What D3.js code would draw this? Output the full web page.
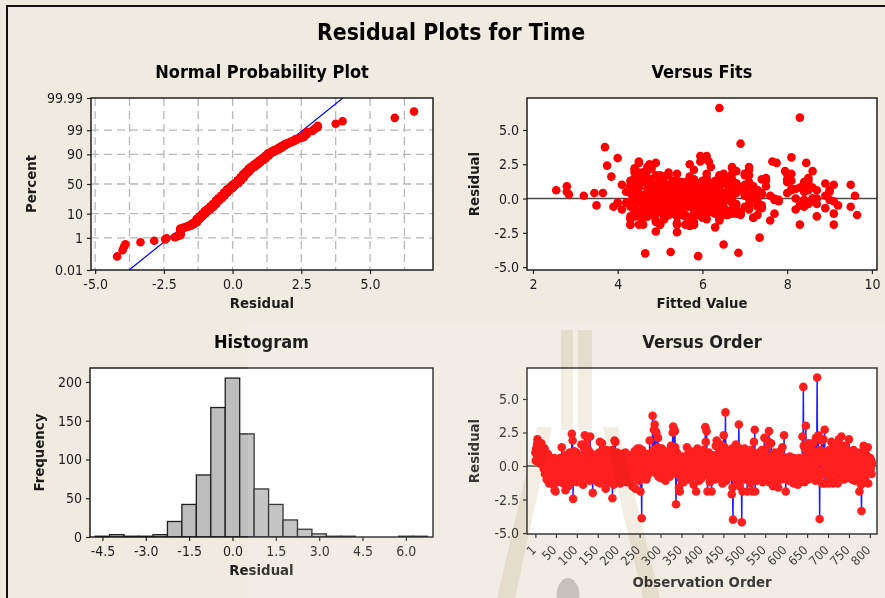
<!DOCTYPE html>
<html>
<head>
<meta charset="utf-8">
<script src="https://cdn.jsdelivr.net/npm/d3@7"></script>
<style>
  html, body { margin: 0; padding: 0; background: #efebe1; }
  svg { display: block; }
  text { font-family: "DejaVu Sans Condensed", "DejaVu Sans", sans-serif; fill: #1c1c1c; }
</style>
</head>
<body>
<svg id="chart" width="885" height="598"></svg>
<script>
// Residuals in observation order
const residuals = [
  1.0,0.4,1.3,0.9,1.6,2.0,1.8,1.2,0.5,1.5,1.1,0.2,1.4,0.8,1.7,0.6,1.2,0.3,1.0,0.9,-0.2,0.7,1.3,-0.6,0.4,
  -0.5,0.6,-1.0,0.2,-0.3,0.9,-0.7,0.1,-1.3,0.4,-0.2,-0.8,0.5,-0.4,0.0,-1.1,0.3,-0.6,-1.4,-0.1,0.6,-1.8,-0.3,-1.9,0.2,
  -0.6,0.3,-1.2,0.0,0.5,-0.4,-0.9,0.4,-0.2,0.6,-0.5,-1.0,0.1,1.4,-0.3,0.2,-0.7,-1.3,0.5,-0.1,-0.6,0.8,-1.8,-0.4,0.3,
  -0.2,0.7,-0.8,0.1,-1.5,0.4,-0.3,1.0,-0.6,0.2,0.6,-1.1,2.4,-0.4,1.9,-2.45,0.5,-0.7,1.1,-0.1,0.3,-0.9,0.0,1.0,-0.5,
  -1.2,0.4,-0.3,0.8,-0.6,0.1,-1.0,0.5,-0.2,-0.7,1.6,0.3,-0.4,0.0,-1.4,0.7,-0.5,1.3,2.3,-0.1,0.2,-0.8,1.7,-0.3,1.1,
  0.6,-0.9,1.2,-0.2,0.3,-1.1,2.2,-0.4,0.1,-0.6,0.9,-0.3,-2.0,0.4,-0.2,0.7,-0.8,-1.0,0.2,-0.5,0.0,-0.9,0.5,-0.4,-1.2,
  0.3,-0.6,1.0,-0.1,1.8,0.6,-1.3,0.2,-0.7,1.7,0.4,-0.2,1.2,-0.5,0.1,-1.0,0.8,-0.3,-1.7,-0.6,1.2,0.0,0.5,-0.8,0.3,
  -0.4,1.1,0.2,-1.2,0.6,-0.2,-0.9,0.4,1.2,-2.4,-0.5,0.1,-1.4,0.7,1.9,-0.3,1.8,-0.6,0.3,-1.1,1.0,0.0,-0.7,0.5,-0.2,
  -0.8,0.4,-0.3,-1.3,0.2,-0.6,0.9,-0.1,-0.5,0.3,-1.0,0.0,0.6,-0.4,-0.2,1.0,-0.7,0.1,-1.2,0.4,-0.3,0.7,-0.6,-0.1,0.2,
  -0.5,0.3,-0.9,0.8,-0.2,-0.6,0.1,-1.5,0.5,-0.3,0.0,-0.8,1.1,-0.4,-1.7,0.2,-0.1,0.6,-0.7,1.3,-0.2,0.4,-1.1,0.9,1.3,
  -0.3,-1.9,0.5,-0.6,-3.9,1.2,-0.9,0.2,-0.4,0.8,0.0,0.3,-0.5,0.6,-0.2,-1.0,0.4,0.1,-0.7,0.9,-0.3,0.5,-0.1,1.9,0.4,
  0.2,-0.4,0.7,0.0,0.9,3.75,0.3,1.2,2.7,0.4,3.1,-0.5,2.6,0.8,2.5,-0.2,0.5,1.4,2.1,-0.8,0.6,1.0,-0.3,1.3,0.2,
  -0.9,0.4,1.3,-0.2,0.1,-0.7,0.6,0.0,1.0,-0.4,0.3,-1.1,0.8,-0.3,0.5,-0.6,0.2,1.1,-0.5,0.0,0.7,-0.8,0.4,-0.1,1.5,
  0.3,-0.4,0.9,2.5,2.95,0.6,-0.2,2.7,2.6,1.4,0.1,-2.85,-0.6,1.0,-0.3,0.4,-0.3,0.2,-1.6,0.6,-1.9,0.0,0.5,-1.0,0.3,
  -0.2,0.7,-0.7,0.1,-1.2,0.4,-0.4,0.0,0.6,-0.9,0.3,-0.1,1.4,-0.6,0.2,0.9,-0.3,-1.0,0.5,0.0,-0.5,1.1,-0.2,0.3,-0.8,
  0.4,-0.3,0.8,-1.4,0.1,-0.6,0.5,-0.1,1.0,-1.9,0.2,-0.4,1.3,-0.7,0.6,0.0,-1.1,0.3,-0.2,0.9,-0.5,0.1,-0.9,0.4,-0.3,
  0.7,-0.2,1.2,-0.7,0.3,-0.1,2.9,1.8,-0.4,2.6,0.5,-1.9,0.2,-0.6,1.0,-0.3,0.4,-1.2,0.0,0.6,-0.8,-1.9,0.3,-0.5,0.8,
  -0.2,0.1,-0.6,0.5,-1.0,0.3,1.5,-0.4,1.9,0.0,0.7,-0.9,0.2,-0.3,1.1,-0.1,0.4,-0.7,1.6,-0.5,0.6,0.0,-1.3,0.9,-0.2,
  2.3,-0.6,1.4,-0.1,4.0,0.5,-1.1,0.2,-0.4,0.8,-0.8,0.0,-0.3,0.6,-0.7,-0.3,1.2,-0.2,0.4,-2.1,1.3,-1.6,-4.0,0.1,0.7,
  -0.4,1.3,0.2,-0.9,1.6,0.5,-1.2,0.9,-0.3,0.0,1.2,3.1,0.4,-1.5,1.3,0.8,-0.1,-0.7,-4.2,0.2,-1.9,0.6,-0.4,0.1,-1.0,
  1.3,-0.2,0.4,-0.6,0.0,0.7,-1.9,0.3,-0.5,1.1,-0.1,0.5,-0.8,0.2,-1.3,1.2,-0.3,0.6,-1.9,0.0,0.4,-0.7,1.8,-0.2,2.7,
  -1.9,0.3,-0.4,0.9,-1.1,0.1,-0.6,0.5,-0.2,1.0,-0.8,0.2,0.6,-0.3,0.8,-0.5,1.2,0.0,-1.2,0.4,-0.7,0.8,2.1,-0.1,0.3,
  -0.6,1.3,0.1,-0.3,0.5,-1.0,0.2,1.8,2.6,-1.2,0.7,0.0,-0.5,1.7,-0.2,0.4,-0.8,0.3,-1.5,0.6,-0.1,1.0,-0.4,0.2,-0.7,
  0.5,-1.2,0.0,0.8,-0.3,-1.6,0.4,-0.6,0.2,1.1,-0.4,0.0,0.6,-1.0,0.3,1.4,-0.2,0.7,-0.5,2.3,0.1,-0.9,0.4,-1.9,0.0,
  -0.4,0.3,-0.7,0.1,0.5,-1.1,0.0,-0.3,0.7,-0.6,0.2,-0.2,0.4,-0.9,0.1,-0.5,0.3,-1.3,0.6,-0.1,0.0,-0.8,0.2,-0.4,0.5,
  -0.2,0.3,-1.4,0.1,-0.6,0.6,-0.3,0.0,-1.0,0.4,-0.5,0.2,-0.1,2.2,-0.7,5.9,1.5,0.4,-1.2,1.3,0.0,3.0,0.8,-0.4,1.6,
  -0.3,0.9,-1.0,1.7,0.2,-0.5,1.1,0.3,-0.8,1.5,0.0,-0.2,0.7,1.7,-0.6,0.4,1.0,-0.3,0.6,-1.1,2.1,0.2,0.9,6.6,0.5,
  1.0,2.3,-0.4,0.8,-3.95,1.2,0.3,-0.7,0.5,1.9,-1.3,1.1,0.6,2.0,-0.2,0.4,2.7,-1.3,1.0,0.1,-0.6,0.7,-1.2,0.3,-0.1,
  0.5,-1.3,1.2,0.2,-0.5,0.8,-1.0,1.8,0.0,-0.4,1.1,-1.3,0.3,-0.2,1.5,-0.8,0.6,-1.1,0.1,1.2,-0.3,0.7,-1.3,0.4,1.7,
  2.0,-0.6,0.9,-0.1,0.4,1.3,2.2,-0.7,0.0,1.0,-0.4,0.6,-1.0,0.2,1.5,-0.2,0.8,-0.9,0.3,1.2,-0.5,0.7,0.0,-0.3,2.0,
  0.4,-0.8,1.1,0.0,-0.4,0.6,-1.0,0.9,-0.2,0.3,1.2,-0.6,0.5,-1.1,0.1,0.8,-0.3,0.4,-0.7,1.0,-0.1,0.2,-1.1,0.6,-1.9,
  0.3,-0.5,0.9,-1.4,-3.35,0.2,0.7,-0.2,1.1,1.5,-0.8,0.4,0.0,-1.1,0.6,-0.3,0.8,-0.6,0.2,1.4,-1.3,0.5,-0.1,0.3,-0.4,
  0.6,-0.2,0.4,-0.6,0.2
];

// Fitted values, same order as the residuals
const fittedValues = [
  5.4,4.9,5.8,6.2,5.1,4.7,6.5,5.5,2.8,5.0,6.0,4.6,7.4,5.7,5.2,2.55,6.3,2.85,4.8,2.8,5.6,7.0,5.3,4.4,6.1,
  3.5,5.9,4.7,3.2,5.5,6.6,5.0,4.5,8.7,3.45,5.8,4.9,6.2,5.3,7.1,4.6,5.7,6.0,5.1,4.8,6.4,5.4,4.0,5.6,7.6,
  5.2,6.1,4.8,5.5,4.3,5.0,4.6,6.3,5.9,4.9,5.3,6.7,4.4,5.8,5.1,8.9,6.0,4.7,5.4,6.5,5.6,4.5,5.0,7.3,6.2,
  4.9,5.7,6.4,5.1,4.3,3.65,5.5,6.0,4.8,7.0,5.2,6.3,3.75,5.9,4.6,5.4,8.4,6.1,5.0,4.7,5.8,6.6,5.3,4.1,4.4,
  5.6,6.2,4.8,5.1,9.5,5.9,4.5,6.0,5.3,4.9,3.85,6.5,5.7,5.0,4.6,6.7,5.4,6.1,4.7,5.8,5.2,6.3,4.9,5.5,6.0,
  8.1,4.6,5.6,6.4,5.0,5.3,4.8,6.2,5.9,4.4,4.5,5.1,5.7,6.0,4.9,7.2,5.4,6.6,5.2,4.7,5.8,6.3,4.2,7.1,5.5,
  6.0,5.2,4.8,9.0,6.1,5.5,4.6,5.9,6.4,5.0,7.0,4.7,5.3,6.2,5.6,4.9,8.3,5.1,5.8,6.5,4.5,5.4,4.3,6.0,5.0,
  4.8,6.3,5.5,5.1,6.7,5.9,4.6,6.1,5.3,4.9,9.2,5.6,6.0,4.7,5.2,6.7,5.4,3.9,7.4,5.8,6.2,5.0,4.8,4.4,5.7,
  5.1,6.5,4.9,5.6,6.0,7.3,5.3,4.6,5.8,6.3,5.0,4.7,8.5,5.5,6.1,5.2,4.8,6.6,5.9,4.3,4.2,5.4,6.2,5.1,7.2,
  5.7,4.9,6.0,5.3,7.3,5.0,4.6,6.4,5.5,4.5,5.8,4.7,6.1,5.2,4.9,7.1,5.6,5.0,8.9,6.3,4.8,5.4,6.7,5.9,6.0,
  5.3,4.6,6.2,7.0,5.25,5.8,4.9,6.0,5.5,8.6,5.1,4.7,6.4,5.6,5.2,4.4,4.8,6.1,5.4,7.5,5.9,5.0,6.6,4.5,5.7,
  6.0,5.2,7.2,4.9,5.6,3.7,6.3,5.0,5.95,4.7,6.1,4.4,8.45,5.5,4.75,6.7,5.3,8.0,5.8,4.6,6.2,6.8,5.1,5.4,9.6,
  4.8,5.9,6.5,5.2,4.6,7.4,5.7,6.0,5.0,4.3,5.4,4.9,6.2,5.6,7.0,5.1,4.7,6.4,5.8,5.3,8.1,4.1,6.0,5.5,6.6,
  5.0,6.3,4.8,5.7,4.0,6.1,5.3,6.15,4.9,8.5,5.6,7.35,4.7,6.0,5.2,4.4,5.8,4.6,6.4,5.4,5.0,7.1,5.9,4.8,6.2,
  5.5,4.9,6.0,6.7,5.2,5.8,4.6,8.7,6.3,5.1,5.6,4.7,6.5,5.3,7.3,5.9,4.8,6.1,5.0,4.5,5.4,6.2,4.3,5.7,8.2,
  6.0,5.1,4.9,7.2,5.6,6.4,5.3,4.7,8.4,5.8,6.1,5.0,4.6,4.4,5.5,6.3,5.2,4.8,7.8,5.9,6.0,5.4,4.9,6.8,5.7,
  5.1,6.2,8.0,5.5,4.8,5.9,6.05,6.7,5.3,4.5,6.4,5.0,5.7,4.3,4.9,6.1,5.4,5.2,7.7,6.0,4.6,5.8,6.3,7.4,5.6,
  4.9,6.5,5.2,5.8,6.9,5.0,4.7,6.1,4.6,8.6,5.5,6.0,5.3,4.8,4.4,5.9,6.3,5.1,4.5,8.3,5.6,6.6,5.4,7.0,5.0,
  6.2,5.7,4.8,4.4,6.9,5.3,6.0,4.9,8.5,5.6,5.1,6.4,4.7,7.3,5.8,5.2,6.1,9.1,5.5,6.3,4.6,7.6,4.65,5.9,5.0,
  5.4,8.1,6.0,4.8,5.7,5.2,6.5,4.3,4.9,5.6,7.1,5.95,6.1,5.1,4.7,5.8,7.8,6.2,5.9,5.3,4.5,9.0,5.5,6.0,5.2,
  4.4,5.0,6.3,5.6,4.9,7.2,5.4,6.1,4.7,5.8,8.4,5.2,6.0,5.5,4.6,6.7,5.9,6.4,4.3,5.1,4.8,6.2,7.0,5.7,7.65,
  8.3,5.3,6.0,4.9,6.9,5.6,5.2,6.3,4.8,4.5,5.5,6.1,7.3,5.0,7.0,5.8,4.6,6.4,5.4,7.4,5.9,6.0,4.4,5.1,4.7,
  6.2,4.3,5.5,4.9,6.0,6.7,5.3,8.0,7.75,6.6,5.7,5.0,6.3,4.5,5.4,4.8,7.1,5.9,6.1,5.2,4.6,8.5,5.6,6.0,6.8,
  5.1,7.3,6.2,8.4,5.5,4.9,6.0,4.4,5.3,8.9,5.8,4.7,6.4,6.7,5.0,4.5,5.6,6.1,4.8,7.1,5.4,6.3,5.9,9.1,5.2,
  6.0,5.5,4.8,6.3,7.0,5.1,5.8,4.6,8.2,6.1,5.3,5.0,6.6,4.4,5.7,4.9,6.2,5.4,8.7,5.9,5.2,6.0,4.7,6.8,5.6,
  6.1,5.0,7.2,5.7,4.8,4.3,6.3,5.4,4.9,6.0,7.1,5.5,5.2,6.7,6.2,8.3,4.6,5.8,6.9,7.5,6.1,8.1,5.3,4.7,4.5,
  5.9,4.4,5.2,6.4,4.9,6.0,6.8,5.5,6.2,8.5,5.0,5.7,6.3,7.0,4.8,6.1,9.1,5.4,5.8,4.5,7.1,6.0,4.3,6.4,5.3,
  6.2,6.7,5.6,4.9,6.85,8.4,6.0,5.3,5.7,4.4,6.4,6.8,5.1,8.6,5.9,6.3,4.5,4.7,9.5,5.5,6.1,5.0,9.65,7.2,5.8,
  9.0,4.3,6.0,5.4,4.8,6.7,6.2,8.1,5.6,5.1,6.5,4.4,5.9,5.3,7.5,6.1,4.9,6.8,5.7,8.5,6.3,5.2,4.5,6.0,7.1,
  6.8,5.5,6.2,4.9,8.0,6.6,4.4,5.3,6.0,5.7,8.7,6.4,5.0,7.3,6.1,5.6,4.3,4.8,6.3,6.7,5.9,5.2,8.2,6.0,7.95,
  5.4,6.7,5.1,8.6,6.0,5.7,4.9,6.8,6.2,5.5,4.4,6.4,5.0,7.7,5.8,6.1,4.7,4.5,5.3,7.0,6.3,5.6,9.1,4.9,4.3,
  6.0,5.2,7.2,5.7,6.5,6.2,4.8,8.6,5.9,4.4,5.4,6.3,7.2,5.1,6.0,5.5,4.5,4.9,6.4,6.7,5.8,6.1,7.7,5.3,6.0,
  6.9,5.6,6.2,8.4,5.0
];

// Histogram bins (centre of each 0.5-wide bin) and their frequencies
const histCenters = [-4.5,-4.0,-3.5,-3.0,-2.5,-2.0,-1.5,-1.0,-0.5,0.0,0.5,1.0,1.5,2.0,2.5,3.0,3.5,4.0,4.5,5.0,5.5,6.0,6.5];
const histCounts  = [1,3,1,1,3,20,42,80,167,205,133,62,42,22,10,4,1,1,0,0,0,1,1];

// Tick values and labels
const percentTicks  = [0.01, 1, 10, 50, 90, 99, 99.99];
const percentLabels = ["0.01", "1", "10", "50", "90", "99", "99.99"];
const percentGrid   = [1, 10, 50, 90, 99];
const probXTicks    = [-5, -2.5, 0, 2.5, 5];
const fitsXTicks    = [2, 4, 6, 8, 10];
const residTicks    = [-5, -2.5, 0, 2.5, 5];
const histXTicks    = [-4.5, -3.0, -1.5, 0.0, 1.5, 3.0, 4.5, 6.0];
const histYTicks    = [0, 50, 100, 150, 200];
const orderTicks    = [1, 50, 100, 150, 200, 250, 300, 350, 400, 450, 500, 550, 600, 650, 700, 750, 800];

// Inverse standard normal CDF (Acklam's rational approximation)
function probit(p) {
  const a = [-3.969683028665376e+01, 2.209460984245205e+02, -2.759285104469687e+02, 1.383577518672690e+02, -3.066479806614716e+01, 2.506628277459239e+00];
  const b = [-5.447609879822406e+01, 1.615858368580409e+02, -1.556989798598866e+02, 6.680131188771972e+01, -1.328068155288572e+01];
  const c = [-7.784894002430293e-03, -3.223964580411365e-01, -2.400758277161838e+00, -2.549671043446478e+00, 4.374664141464968e+00, 2.938163982698783e+00];
  const d = [7.784695709041462e-03, 3.224671290700398e-01, 2.445134137142996e+00, 3.754408661907416e+00];
  const pl = 0.02425, ph = 1 - pl;
  let q, r;
  if (p < pl) {
    q = Math.sqrt(-2 * Math.log(p));
    return (((((c[0]*q+c[1])*q+c[2])*q+c[3])*q+c[4])*q+c[5]) / ((((d[0]*q+d[1])*q+d[2])*q+d[3])*q+1);
  }
  if (p <= ph) {
    q = p - 0.5; r = q * q;
    return (((((a[0]*r+a[1])*r+a[2])*r+a[3])*r+a[4])*r+a[5])*q / (((((b[0]*r+b[1])*r+b[2])*r+b[3])*r+b[4])*r+1);
  }
  q = Math.sqrt(-2 * Math.log(1 - p));
  return -(((((c[0]*q+c[1])*q+c[2])*q+c[3])*q+c[4])*q+c[5]) / ((((d[0]*q+d[1])*q+d[2])*q+d[3])*q+1);
}

const fmt1 = v => v.toFixed(1);
const RED = "#ff0000";
const DOT_R = 4.3;

const svg = d3.select("#chart");

// Page background and outer frame
svg.append("rect").attr("width", 885).attr("height", 598).attr("fill", "#efebe1");
svg.append("rect").attr("x", 7).attr("y", 6).attr("width", 900).attr("height", 610)
  .attr("fill", "none").attr("stroke", "#111").attr("stroke-width", 2);

svg.append("text").attr("x", 451).attr("y", 40).attr("text-anchor", "middle")
  .style("font-size", "22.8px").style("font-weight", "bold").style("fill", "#000")
  .text("Residual Plots for Time");

let clipId = 0;
function makePanel(box, title, xTitle, yTitle, yTitleX, xTitleY) {
  const g = svg.append("g");
  g.append("rect").attr("x", box.l).attr("y", box.t).attr("width", box.r - box.l).attr("height", box.b - box.t).attr("fill", "#fff");
  const id = "clip" + (clipId++);
  svg.append("clipPath").attr("id", id).append("rect")
    .attr("x", box.l).attr("y", box.t).attr("width", box.r - box.l).attr("height", box.b - box.t);
  const plot = g.append("g").attr("clip-path", `url(#${id})`);
  const cx = (box.l + box.r) / 2;
  g.append("text").attr("x", cx).attr("y", box.t - 20).attr("text-anchor", "middle")
    .style("font-size", "18px").style("font-weight", "bold").style("fill", "#000").text(title);
  g.append("text").attr("x", cx).attr("y", xTitleY).attr("text-anchor", "middle")
    .style("font-size", "14.8px").style("font-weight", "bold").text(xTitle);
  const cy = (box.t + box.b) / 2;
  g.append("text").attr("transform", `translate(${yTitleX},${cy}) rotate(-90)`).attr("text-anchor", "middle")
    .style("font-size", "14.8px").style("font-weight", "bold").text(yTitle);
  return { g, plot };
}

function styleAxis(sel) {
  sel.attr("font-family", null).attr("font-size", null);
  sel.select(".domain").remove();
  sel.selectAll(".tick line").attr("stroke", "#222").attr("stroke-width", 1.2);
  sel.selectAll(".tick text").style("font-size", "14px");
}

function frame(g, box) {
  g.append("rect").attr("x", box.l).attr("y", box.t).attr("width", box.r - box.l).attr("height", box.b - box.t)
    .attr("fill", "none").attr("stroke", "#111").attr("stroke-width", 1.4);
}

// ---------- Normal Probability Plot ----------
const probBox = { l: 91, r: 433, t: 98, b: 270 };
const xProb = d3.scaleLinear([-5.15, 7.29], [probBox.l, probBox.r]);
const yProb = d3.scaleLinear([probit(0.0001), probit(0.9999)], [probBox.b, probBox.t]);
{
  const { g, plot } = makePanel(probBox, "Normal Probability Plot", "Residual", "Percent", 36, 308);
  plot.selectAll(".vgrid").data(d3.range(-5, 6.3, 1.25)).join("line")
    .attr("x1", d => xProb(d)).attr("x2", d => xProb(d)).attr("y1", probBox.t).attr("y2", probBox.b)
    .attr("stroke", "#b8b8b8").attr("stroke-width", 1.3).attr("stroke-dasharray", "8,5");
  plot.selectAll(".hgrid").data(percentGrid).join("line")
    .attr("x1", probBox.l).attr("x2", probBox.r)
    .attr("y1", d => yProb(probit(d / 100))).attr("y2", d => yProb(probit(d / 100)))
    .attr("stroke", "#b8b8b8").attr("stroke-width", 1.3).attr("stroke-dasharray", "8,5");

  const sorted = residuals.slice().sort(d3.ascending);
  const n = sorted.length;
  const mu = d3.mean(residuals), sd = d3.deviation(residuals);
  const [z0, z1] = yProb.domain();
  plot.append("line")
    .attr("x1", xProb(mu + sd * z0)).attr("y1", yProb(z0))
    .attr("x2", xProb(mu + sd * z1)).attr("y2", yProb(z1))
    .attr("stroke", "#0000ff").attr("stroke-width", 1.2);
  plot.selectAll("circle").data(sorted).join("circle")
    .attr("cx", d => xProb(d))
    .attr("cy", (d, i) => yProb(probit((i + 1 - 0.3) / (n + 0.4))))
    .attr("r", DOT_R).attr("fill", RED);

  frame(g, probBox);
  g.append("g").attr("transform", `translate(0,${probBox.b})`)
    .call(d3.axisBottom(xProb).tickValues(probXTicks).tickFormat(fmt1).tickSize(4).tickPadding(5)).call(styleAxis);
  g.append("g").attr("transform", `translate(${probBox.l},0)`)
    .call(d3.axisLeft(yProb).tickValues(percentTicks.map(p => probit(p / 100)))
      .tickFormat((d, i) => percentLabels[i]).tickSize(4).tickPadding(4)).call(styleAxis);
}

// ---------- Versus Fits ----------
const fitsBox = { l: 527, r: 877, t: 98, b: 270 };
const xFit = d3.scaleLinear([1.86, 10.12], [fitsBox.l, fitsBox.r]);
const yFit = d3.scaleLinear([-5.21, 7.33], [fitsBox.b, fitsBox.t]);
{
  const { g, plot } = makePanel(fitsBox, "Versus Fits", "Fitted Value", "Residual", 479, 308);
  plot.append("line").attr("x1", fitsBox.l).attr("x2", fitsBox.r).attr("y1", yFit(0)).attr("y2", yFit(0))
    .attr("stroke", "#4a4a4a").attr("stroke-width", 1.6);
  plot.selectAll("circle").data(residuals).join("circle")
    .attr("cx", (d, i) => xFit(fittedValues[i])).attr("cy", d => yFit(d))
    .attr("r", DOT_R).attr("fill", RED);
  frame(g, fitsBox);
  g.append("g").attr("transform", `translate(0,${fitsBox.b})`)
    .call(d3.axisBottom(xFit).tickValues(fitsXTicks).tickFormat(d3.format("d")).tickSize(4).tickPadding(5)).call(styleAxis);
  g.append("g").attr("transform", `translate(${fitsBox.l},0)`)
    .call(d3.axisLeft(yFit).tickValues(residTicks).tickFormat(fmt1).tickSize(4).tickPadding(4)).call(styleAxis);
}

// ---------- Histogram ----------
const histBox = { l: 90, r: 433, t: 368, b: 537 };
const xHist = d3.scaleLinear([-4.93, 6.94], [histBox.l, histBox.r]);
const yHist = d3.scaleLinear([0, 218], [histBox.b, histBox.t]);
{
  const { g, plot } = makePanel(histBox, "Histogram", "Residual", "Frequency", 44, 575);
  plot.selectAll("rect.bar").data(histCenters).join("rect").attr("class", "bar")
    .attr("x", d => xHist(d - 0.25)).attr("width", d => xHist(d + 0.25) - xHist(d - 0.25))
    .attr("y", (d, i) => yHist(histCounts[i])).attr("height", (d, i) => yHist(0) - yHist(histCounts[i]))
    .attr("fill", "#bdbdbd").attr("stroke", "#1e1e1e").attr("stroke-width", 1.3);
  frame(g, histBox);
  g.append("g").attr("transform", `translate(0,${histBox.b})`)
    .call(d3.axisBottom(xHist).tickValues(histXTicks).tickFormat(fmt1).tickSize(4).tickPadding(5)).call(styleAxis);
  g.append("g").attr("transform", `translate(${histBox.l},0)`)
    .call(d3.axisLeft(yHist).tickValues(histYTicks).tickFormat(d3.format("d")).tickSize(4).tickPadding(4)).call(styleAxis);
}

// ---------- Versus Order ----------
const ordBox = { l: 527, r: 877, t: 368, b: 534 };
const xOrd = d3.scaleLinear([-19, 817], [ordBox.l, ordBox.r]);
const yOrd = d3.scaleLinear([-5.07, 7.31], [ordBox.b, ordBox.t]);
{
  const { g, plot } = makePanel(ordBox, "Versus Order", "Observation Order", "Residual", 479, 587);
  plot.append("line").attr("x1", ordBox.l).attr("x2", ordBox.r).attr("y1", yOrd(0)).attr("y2", yOrd(0))
    .attr("stroke", "#4a4a4a").attr("stroke-width", 1.6);
  plot.append("path").datum(residuals)
    .attr("d", d3.line().x((d, i) => xOrd(i + 1)).y(d => yOrd(d)))
    .attr("fill", "none").attr("stroke", "#0000ff").attr("stroke-width", 1.5);
  plot.selectAll("circle").data(residuals).join("circle")
    .attr("cx", (d, i) => xOrd(i + 1)).attr("cy", d => yOrd(d))
    .attr("r", DOT_R).attr("fill", RED);
  frame(g, ordBox);
  const ax = g.append("g").attr("transform", `translate(0,${ordBox.b})`)
    .call(d3.axisBottom(xOrd).tickValues(orderTicks).tickFormat(d3.format("d")).tickSize(4)).call(styleAxis);
  ax.selectAll(".tick text")
    .attr("y", null).attr("dy", null).attr("text-anchor", "end")
    .attr("transform", "translate(1,17) rotate(-45)")
    .style("font-size", "12.5px");
  g.append("g").attr("transform", `translate(${ordBox.l},0)`)
    .call(d3.axisLeft(yOrd).tickValues(residTicks).tickFormat(fmt1).tickSize(4).tickPadding(4)).call(styleAxis);
}

// ---------- Faded logo overlay on the lower right ----------
svg.append("rect").attr("x", 248).attr("y", 322).attr("width", 640).attr("height", 280)
  .attr("fill", "#ffffff").attr("opacity", 0.12);
const mark = svg.append("g").style("mix-blend-mode", "multiply").attr("fill", "#c2a676").attr("opacity", 0.2);
mark.append("rect").attr("x", 561).attr("y", 330).attr("width", 12).attr("height", 100);
mark.append("rect").attr("x", 578).attr("y", 330).attr("width", 14).attr("height", 100);
mark.append("polygon").attr("points", "537,427 552,427 515,598 497,598");
mark.append("polygon").attr("points", "603,427 618,427 660,598 643,598");
svg.append("ellipse").attr("cx", 568).attr("cy", 596).attr("rx", 11.5).attr("ry", 18)
  .attr("fill", "#c6c2bb");
</script>
</body>
</html>
